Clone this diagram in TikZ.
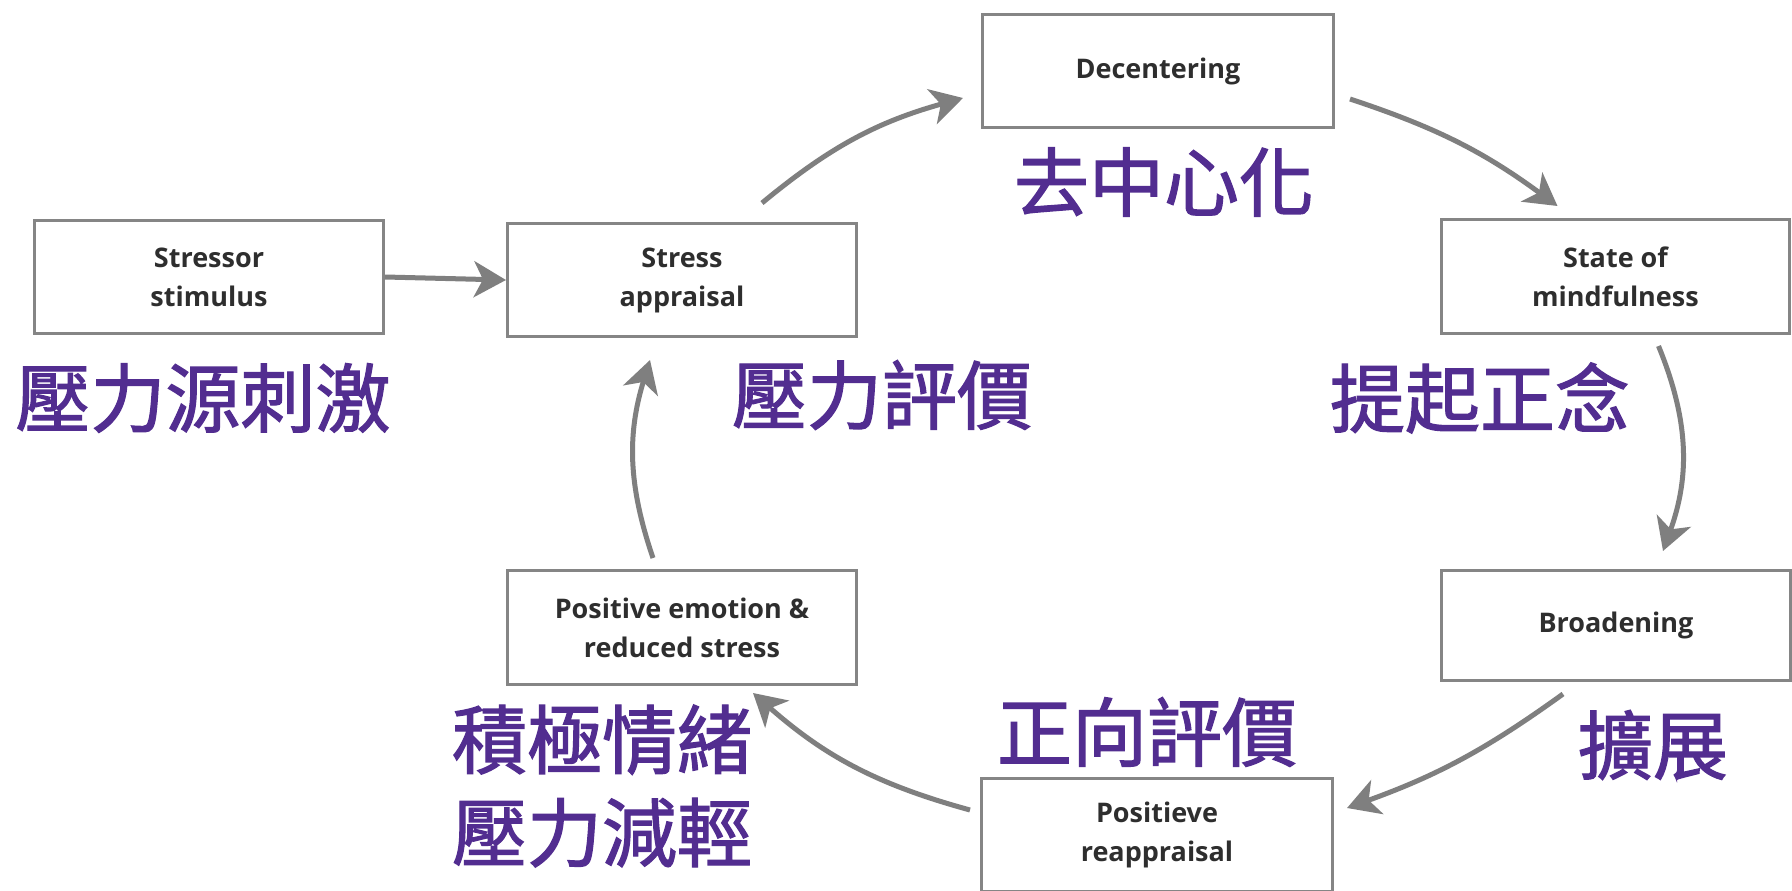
\documentclass[tikz,border=0pt]{standalone}
\usepackage{fontspec}
\setmainfont{Open Sans}
\newfontfamily\cjkfont[FakeBold=1.6]{Noto Sans CJK TC}
\usetikzlibrary{arrows.meta,calc}
\definecolor{boxgray}{HTML}{858585}
\definecolor{arrgray}{HTML}{7F7F7F}
\definecolor{cjkpurple}{HTML}{522D90}
\definecolor{txtgray}{HTML}{2E2E2E}
\begin{document}
\begin{tikzpicture}[x=1pt,y=-1pt,
  box/.style={draw=boxgray, line width=3pt, fill=white, minimum width=349pt, minimum height=113pt, inner sep=0pt, align=center, text=txtgray, font=\bfseries\fontsize{27}{39}\selectfont},
  cn/.style={text=cjkpurple, inner sep=0pt, font=\cjkfont\fontsize{75}{93}\selectfont, align=center},
  arr/.style={draw=arrgray, line width=5pt, -{Stealth[length=32pt,width=36pt,inset=9pt]}},
]
\useasboundingbox (0,0) rectangle (1792,891);
\fill[white] (0,0) rectangle (1792,891);
\clip (0,0) rectangle (1792,891);

% boxes
\node[box] (S) at (209,277) {Stressor\\stimulus};
\node[box] (A) at (682,280) {Stress\\appraisal};
\node[box, minimum width=351pt] (D) at (1158,71) {Decentering};
\node[box, minimum width=348pt, minimum height=114pt] (M) at (1615.5,276.5) {State of\\mindfulness};
\node[box, minimum height=110pt] (B) at (1616,625.5) {Broadening};
\node[box, minimum height=114pt] (P) at (682,627.5) {Positive emotion \&\\reduced stress};
\node[box, minimum width=351pt] (R) at (1157,835) {Positieve\\reappraisal};

% chinese labels
\node[cn] (cS) at (203,398) {壓力源刺激};
\node[cn] (cD) at (1164,182) {去中心化};
\node[cn] (cA) at (882,395) {壓力評價};
\node[cn] (cM) at (1480,398) {提起正念};
\node[cn] (cB) at (1653,745) {擴展};
\node[cn] (cR) at (1147,732) {正向評價};
\node[cn] (cP) at (602,786) {積極情緒\\壓力減輕};

% connectors
\draw[arr] (S.east) -- (A.west);
\draw[arr] ($(A.north)+(80,-19)$) to[bend left=12] ($(D.west)+(-18,27)$);
\draw[arr] ($(D.east)+(15,28)$) to[bend left=9] ($(M.north)+(-58,-12)$);
\draw[arr] ($(M.south)+(43,11)$) to[bend left=21] ($(B.north)+(47,-18)$);
\draw[arr] ($(B.south)+(-53,12)$) to[bend left=8] ($(R.east)+(13,-27)$);
\draw[arr] ($(R.west)+(-10,-25)$) to[bend left=13] ($(P.south)+(71,7)$);
\draw[arr] ($(P.north)+(-29,-11)$) to[bend left=18] ($(A.south)+(-32,22)$);
\end{tikzpicture}
\end{document}
